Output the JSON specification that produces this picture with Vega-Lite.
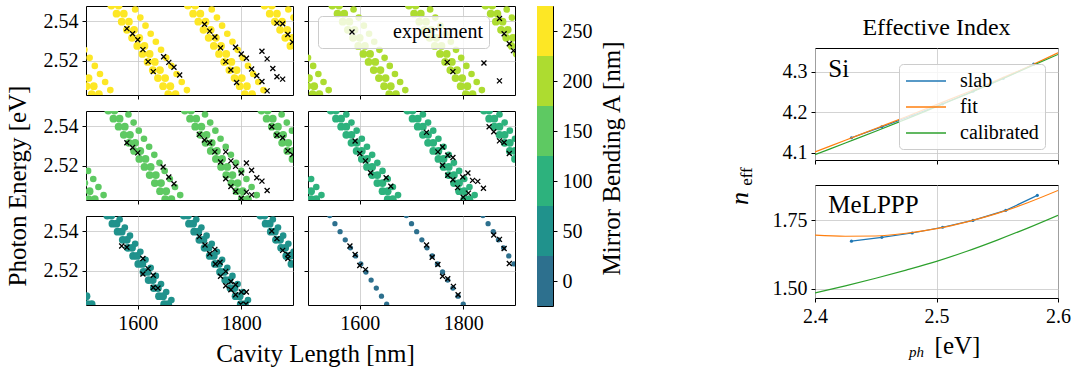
{
"$schema": "https://vega.github.io/schema/vega-lite/v6.json",
"padding": {"left": 5, "top": 5, "right": 5, "bottom": 5},
"background": "white",
"datasets": {
"sim": [
{"b":250,"m":"M","L":1501,"E":2.507},{"b":250,"m":"M","L":1511,"E":2.5029},
{"b":250,"m":"M","L":1549,"E":2.548},{"b":250,"m":"M","L":1559,"E":2.5439},{"b":250,"m":"M","L":1569,"E":2.5398},{"b":250,"m":"M","L":1579,"E":2.5357},{"b":250,"m":"M","L":1589,"E":2.5316},{"b":250,"m":"M","L":1599,"E":2.5275},{"b":250,"m":"M","L":1609,"E":2.5234},{"b":250,"m":"M","L":1619,"E":2.5193},{"b":250,"m":"M","L":1629,"E":2.5152},{"b":250,"m":"M","L":1639,"E":2.5111},{"b":250,"m":"M","L":1649,"E":2.507},{"b":250,"m":"M","L":1659,"E":2.5029},
{"b":250,"m":"M","L":1697,"E":2.548},{"b":250,"m":"M","L":1707,"E":2.5439},{"b":250,"m":"M","L":1717,"E":2.5398},{"b":250,"m":"M","L":1727,"E":2.5357},{"b":250,"m":"M","L":1737,"E":2.5316},{"b":250,"m":"M","L":1747,"E":2.5275},{"b":250,"m":"M","L":1757,"E":2.5234},{"b":250,"m":"M","L":1767,"E":2.5193},{"b":250,"m":"M","L":1777,"E":2.5152},{"b":250,"m":"M","L":1787,"E":2.5111},{"b":250,"m":"M","L":1797,"E":2.507},{"b":250,"m":"M","L":1807,"E":2.5029},
{"b":250,"m":"M","L":1845,"E":2.548},{"b":250,"m":"M","L":1855,"E":2.5439},{"b":250,"m":"M","L":1865,"E":2.5398},{"b":250,"m":"M","L":1875,"E":2.5357},{"b":250,"m":"M","L":1885,"E":2.5316},{"b":250,"m":"M","L":1895,"E":2.5275},
{"b":250,"m":"M","L":1505,"E":2.5111},{"b":250,"m":"M","L":1515,"E":2.507},{"b":250,"m":"M","L":1525,"E":2.5029},
{"b":250,"m":"M","L":1563,"E":2.548},{"b":250,"m":"M","L":1573,"E":2.5439},{"b":250,"m":"M","L":1583,"E":2.5398},{"b":250,"m":"M","L":1593,"E":2.5357},{"b":250,"m":"M","L":1603,"E":2.5316},{"b":250,"m":"M","L":1613,"E":2.5275},{"b":250,"m":"M","L":1623,"E":2.5234},{"b":250,"m":"M","L":1633,"E":2.5193},{"b":250,"m":"M","L":1643,"E":2.5152},{"b":250,"m":"M","L":1653,"E":2.5111},{"b":250,"m":"M","L":1663,"E":2.507},{"b":250,"m":"M","L":1673,"E":2.5029},
{"b":250,"m":"M","L":1711,"E":2.548},{"b":250,"m":"M","L":1721,"E":2.5439},{"b":250,"m":"M","L":1731,"E":2.5398},{"b":250,"m":"M","L":1741,"E":2.5357},{"b":250,"m":"M","L":1751,"E":2.5316},{"b":250,"m":"M","L":1761,"E":2.5275},{"b":250,"m":"M","L":1771,"E":2.5234},{"b":250,"m":"M","L":1781,"E":2.5193},{"b":250,"m":"M","L":1791,"E":2.5152},{"b":250,"m":"M","L":1801,"E":2.5111},{"b":250,"m":"M","L":1811,"E":2.507},{"b":250,"m":"M","L":1821,"E":2.5029},
{"b":250,"m":"M","L":1859,"E":2.548},{"b":250,"m":"M","L":1869,"E":2.5439},{"b":250,"m":"M","L":1879,"E":2.5398},{"b":250,"m":"M","L":1889,"E":2.5357},{"b":250,"m":"M","L":1899,"E":2.5316},
{"b":250,"m":"S","L":1497,"E":2.5255},{"b":250,"m":"S","L":1507,"E":2.5214},{"b":250,"m":"S","L":1517,"E":2.5173},{"b":250,"m":"S","L":1527,"E":2.5132},{"b":250,"m":"S","L":1537,"E":2.5091},{"b":250,"m":"S","L":1547,"E":2.505},
{"b":250,"m":"S","L":1595,"E":2.546},{"b":250,"m":"S","L":1605,"E":2.5419},{"b":250,"m":"S","L":1615,"E":2.5378},{"b":250,"m":"S","L":1625,"E":2.5337},{"b":250,"m":"S","L":1635,"E":2.5296},{"b":250,"m":"S","L":1645,"E":2.5255},{"b":250,"m":"S","L":1655,"E":2.5214},{"b":250,"m":"S","L":1665,"E":2.5173},{"b":250,"m":"S","L":1675,"E":2.5132},{"b":250,"m":"S","L":1685,"E":2.5091},{"b":250,"m":"S","L":1695,"E":2.505},
{"b":250,"m":"S","L":1743,"E":2.546},{"b":250,"m":"S","L":1753,"E":2.5419},{"b":250,"m":"S","L":1763,"E":2.5378},{"b":250,"m":"S","L":1773,"E":2.5337},{"b":250,"m":"S","L":1783,"E":2.5296},{"b":250,"m":"S","L":1793,"E":2.5255},{"b":250,"m":"S","L":1803,"E":2.5214},{"b":250,"m":"S","L":1813,"E":2.5173},{"b":250,"m":"S","L":1823,"E":2.5132},{"b":250,"m":"S","L":1833,"E":2.5091},{"b":250,"m":"S","L":1843,"E":2.505},
{"b":250,"m":"S","L":1891,"E":2.546},{"b":250,"m":"S","L":1901,"E":2.5419},

{"b":200,"m":"M","L":1499,"E":2.507},{"b":200,"m":"M","L":1509,"E":2.5029},
{"b":200,"m":"M","L":1547,"E":2.548},{"b":200,"m":"M","L":1557,"E":2.5439},{"b":200,"m":"M","L":1567,"E":2.5398},{"b":200,"m":"M","L":1577,"E":2.5357},{"b":200,"m":"M","L":1587,"E":2.5316},{"b":200,"m":"M","L":1597,"E":2.5275},{"b":200,"m":"M","L":1607,"E":2.5234},{"b":200,"m":"M","L":1617,"E":2.5193},{"b":200,"m":"M","L":1627,"E":2.5152},{"b":200,"m":"M","L":1637,"E":2.5111},{"b":200,"m":"M","L":1647,"E":2.507},{"b":200,"m":"M","L":1657,"E":2.5029},
{"b":200,"m":"M","L":1695,"E":2.548},{"b":200,"m":"M","L":1705,"E":2.5439},{"b":200,"m":"M","L":1715,"E":2.5398},{"b":200,"m":"M","L":1725,"E":2.5357},{"b":200,"m":"M","L":1735,"E":2.5316},{"b":200,"m":"M","L":1745,"E":2.5275},{"b":200,"m":"M","L":1755,"E":2.5234},{"b":200,"m":"M","L":1765,"E":2.5193},{"b":200,"m":"M","L":1775,"E":2.5152},{"b":200,"m":"M","L":1785,"E":2.5111},{"b":200,"m":"M","L":1795,"E":2.507},{"b":200,"m":"M","L":1805,"E":2.5029},
{"b":200,"m":"M","L":1843,"E":2.548},{"b":200,"m":"M","L":1853,"E":2.5439},{"b":200,"m":"M","L":1863,"E":2.5398},{"b":200,"m":"M","L":1873,"E":2.5357},{"b":200,"m":"M","L":1883,"E":2.5316},{"b":200,"m":"M","L":1893,"E":2.5275},{"b":200,"m":"M","L":1903,"E":2.5234},
{"b":200,"m":"M","L":1502,"E":2.5111},{"b":200,"m":"M","L":1512,"E":2.507},{"b":200,"m":"M","L":1522,"E":2.5029},
{"b":200,"m":"M","L":1560,"E":2.548},{"b":200,"m":"M","L":1570,"E":2.5439},{"b":200,"m":"M","L":1580,"E":2.5398},{"b":200,"m":"M","L":1590,"E":2.5357},{"b":200,"m":"M","L":1600,"E":2.5316},{"b":200,"m":"M","L":1610,"E":2.5275},{"b":200,"m":"M","L":1620,"E":2.5234},{"b":200,"m":"M","L":1630,"E":2.5193},{"b":200,"m":"M","L":1640,"E":2.5152},{"b":200,"m":"M","L":1650,"E":2.5111},{"b":200,"m":"M","L":1660,"E":2.507},{"b":200,"m":"M","L":1670,"E":2.5029},
{"b":200,"m":"M","L":1708,"E":2.548},{"b":200,"m":"M","L":1718,"E":2.5439},{"b":200,"m":"M","L":1728,"E":2.5398},{"b":200,"m":"M","L":1738,"E":2.5357},{"b":200,"m":"M","L":1748,"E":2.5316},{"b":200,"m":"M","L":1758,"E":2.5275},{"b":200,"m":"M","L":1768,"E":2.5234},{"b":200,"m":"M","L":1778,"E":2.5193},{"b":200,"m":"M","L":1788,"E":2.5152},{"b":200,"m":"M","L":1798,"E":2.5111},{"b":200,"m":"M","L":1808,"E":2.507},{"b":200,"m":"M","L":1818,"E":2.5029},
{"b":200,"m":"M","L":1856,"E":2.548},{"b":200,"m":"M","L":1866,"E":2.5439},{"b":200,"m":"M","L":1876,"E":2.5398},{"b":200,"m":"M","L":1886,"E":2.5357},{"b":200,"m":"M","L":1896,"E":2.5316},
{"b":200,"m":"S","L":1500,"E":2.5214},{"b":200,"m":"S","L":1510,"E":2.5173},{"b":200,"m":"S","L":1520,"E":2.5132},{"b":200,"m":"S","L":1530,"E":2.5091},{"b":200,"m":"S","L":1540,"E":2.505},
{"b":200,"m":"S","L":1588,"E":2.546},{"b":200,"m":"S","L":1598,"E":2.5419},{"b":200,"m":"S","L":1608,"E":2.5378},{"b":200,"m":"S","L":1618,"E":2.5337},{"b":200,"m":"S","L":1628,"E":2.5296},{"b":200,"m":"S","L":1638,"E":2.5255},{"b":200,"m":"S","L":1648,"E":2.5214},{"b":200,"m":"S","L":1658,"E":2.5173},{"b":200,"m":"S","L":1668,"E":2.5132},{"b":200,"m":"S","L":1678,"E":2.5091},{"b":200,"m":"S","L":1688,"E":2.505},
{"b":200,"m":"S","L":1736,"E":2.546},{"b":200,"m":"S","L":1746,"E":2.5419},{"b":200,"m":"S","L":1756,"E":2.5378},{"b":200,"m":"S","L":1766,"E":2.5337},{"b":200,"m":"S","L":1776,"E":2.5296},{"b":200,"m":"S","L":1786,"E":2.5255},{"b":200,"m":"S","L":1796,"E":2.5214},{"b":200,"m":"S","L":1806,"E":2.5173},{"b":200,"m":"S","L":1816,"E":2.5132},{"b":200,"m":"S","L":1826,"E":2.5091},{"b":200,"m":"S","L":1836,"E":2.505},
{"b":200,"m":"S","L":1884,"E":2.546},{"b":200,"m":"S","L":1894,"E":2.5419},

{"b":150,"m":"M","L":1505,"E":2.5029},
{"b":150,"m":"M","L":1543,"E":2.548},{"b":150,"m":"M","L":1553,"E":2.5439},{"b":150,"m":"M","L":1563,"E":2.5398},{"b":150,"m":"M","L":1573,"E":2.5357},{"b":150,"m":"M","L":1583,"E":2.5316},{"b":150,"m":"M","L":1593,"E":2.5275},{"b":150,"m":"M","L":1603,"E":2.5234},{"b":150,"m":"M","L":1613,"E":2.5193},{"b":150,"m":"M","L":1623,"E":2.5152},{"b":150,"m":"M","L":1633,"E":2.5111},{"b":150,"m":"M","L":1643,"E":2.507},{"b":150,"m":"M","L":1653,"E":2.5029},
{"b":150,"m":"M","L":1691,"E":2.548},{"b":150,"m":"M","L":1701,"E":2.5439},{"b":150,"m":"M","L":1711,"E":2.5398},{"b":150,"m":"M","L":1721,"E":2.5357},{"b":150,"m":"M","L":1731,"E":2.5316},{"b":150,"m":"M","L":1741,"E":2.5275},{"b":150,"m":"M","L":1751,"E":2.5234},{"b":150,"m":"M","L":1761,"E":2.5193},{"b":150,"m":"M","L":1771,"E":2.5152},{"b":150,"m":"M","L":1781,"E":2.5111},{"b":150,"m":"M","L":1791,"E":2.507},{"b":150,"m":"M","L":1801,"E":2.5029},
{"b":150,"m":"M","L":1839,"E":2.548},{"b":150,"m":"M","L":1849,"E":2.5439},{"b":150,"m":"M","L":1859,"E":2.5398},{"b":150,"m":"M","L":1869,"E":2.5357},{"b":150,"m":"M","L":1879,"E":2.5316},{"b":150,"m":"M","L":1889,"E":2.5275},{"b":150,"m":"M","L":1899,"E":2.5234},
{"b":150,"m":"M","L":1497,"E":2.5111},{"b":150,"m":"M","L":1507,"E":2.507},{"b":150,"m":"M","L":1517,"E":2.5029},
{"b":150,"m":"M","L":1555,"E":2.548},{"b":150,"m":"M","L":1565,"E":2.5439},{"b":150,"m":"M","L":1575,"E":2.5398},{"b":150,"m":"M","L":1585,"E":2.5357},{"b":150,"m":"M","L":1595,"E":2.5316},{"b":150,"m":"M","L":1605,"E":2.5275},{"b":150,"m":"M","L":1615,"E":2.5234},{"b":150,"m":"M","L":1625,"E":2.5193},{"b":150,"m":"M","L":1635,"E":2.5152},{"b":150,"m":"M","L":1645,"E":2.5111},{"b":150,"m":"M","L":1655,"E":2.507},{"b":150,"m":"M","L":1665,"E":2.5029},
{"b":150,"m":"M","L":1703,"E":2.548},{"b":150,"m":"M","L":1713,"E":2.5439},{"b":150,"m":"M","L":1723,"E":2.5398},{"b":150,"m":"M","L":1733,"E":2.5357},{"b":150,"m":"M","L":1743,"E":2.5316},{"b":150,"m":"M","L":1753,"E":2.5275},{"b":150,"m":"M","L":1763,"E":2.5234},{"b":150,"m":"M","L":1773,"E":2.5193},{"b":150,"m":"M","L":1783,"E":2.5152},{"b":150,"m":"M","L":1793,"E":2.5111},{"b":150,"m":"M","L":1803,"E":2.507},{"b":150,"m":"M","L":1813,"E":2.5029},
{"b":150,"m":"M","L":1851,"E":2.548},{"b":150,"m":"M","L":1861,"E":2.5439},{"b":150,"m":"M","L":1871,"E":2.5398},{"b":150,"m":"M","L":1881,"E":2.5357},{"b":150,"m":"M","L":1891,"E":2.5316},{"b":150,"m":"M","L":1901,"E":2.5275},
{"b":150,"m":"S","L":1504,"E":2.5173},{"b":150,"m":"S","L":1514,"E":2.5132},{"b":150,"m":"S","L":1524,"E":2.5091},{"b":150,"m":"S","L":1534,"E":2.505},
{"b":150,"m":"S","L":1582,"E":2.546},{"b":150,"m":"S","L":1592,"E":2.5419},{"b":150,"m":"S","L":1602,"E":2.5378},{"b":150,"m":"S","L":1612,"E":2.5337},{"b":150,"m":"S","L":1622,"E":2.5296},{"b":150,"m":"S","L":1632,"E":2.5255},{"b":150,"m":"S","L":1642,"E":2.5214},{"b":150,"m":"S","L":1652,"E":2.5173},{"b":150,"m":"S","L":1662,"E":2.5132},{"b":150,"m":"S","L":1672,"E":2.5091},{"b":150,"m":"S","L":1682,"E":2.505},
{"b":150,"m":"S","L":1730,"E":2.546},{"b":150,"m":"S","L":1740,"E":2.5419},{"b":150,"m":"S","L":1750,"E":2.5378},{"b":150,"m":"S","L":1760,"E":2.5337},{"b":150,"m":"S","L":1770,"E":2.5296},{"b":150,"m":"S","L":1780,"E":2.5255},{"b":150,"m":"S","L":1790,"E":2.5214},{"b":150,"m":"S","L":1800,"E":2.5173},{"b":150,"m":"S","L":1810,"E":2.5132},{"b":150,"m":"S","L":1820,"E":2.5091},{"b":150,"m":"S","L":1830,"E":2.505},
{"b":150,"m":"S","L":1878,"E":2.546},{"b":150,"m":"S","L":1888,"E":2.5419},{"b":150,"m":"S","L":1898,"E":2.5378},

{"b":100,"m":"M","L":1506,"E":2.5029},
{"b":100,"m":"M","L":1544,"E":2.548},{"b":100,"m":"M","L":1554,"E":2.5439},{"b":100,"m":"M","L":1564,"E":2.5398},{"b":100,"m":"M","L":1574,"E":2.5357},{"b":100,"m":"M","L":1584,"E":2.5316},{"b":100,"m":"M","L":1594,"E":2.5275},{"b":100,"m":"M","L":1604,"E":2.5234},{"b":100,"m":"M","L":1614,"E":2.5193},{"b":100,"m":"M","L":1624,"E":2.5152},{"b":100,"m":"M","L":1634,"E":2.5111},{"b":100,"m":"M","L":1644,"E":2.507},{"b":100,"m":"M","L":1654,"E":2.5029},
{"b":100,"m":"M","L":1692,"E":2.548},{"b":100,"m":"M","L":1702,"E":2.5439},{"b":100,"m":"M","L":1712,"E":2.5398},{"b":100,"m":"M","L":1722,"E":2.5357},{"b":100,"m":"M","L":1732,"E":2.5316},{"b":100,"m":"M","L":1742,"E":2.5275},{"b":100,"m":"M","L":1752,"E":2.5234},{"b":100,"m":"M","L":1762,"E":2.5193},{"b":100,"m":"M","L":1772,"E":2.5152},{"b":100,"m":"M","L":1782,"E":2.5111},{"b":100,"m":"M","L":1792,"E":2.507},{"b":100,"m":"M","L":1802,"E":2.5029},
{"b":100,"m":"M","L":1840,"E":2.548},{"b":100,"m":"M","L":1850,"E":2.5439},{"b":100,"m":"M","L":1860,"E":2.5398},{"b":100,"m":"M","L":1870,"E":2.5357},{"b":100,"m":"M","L":1880,"E":2.5316},{"b":100,"m":"M","L":1890,"E":2.5275},{"b":100,"m":"M","L":1900,"E":2.5234},
{"b":100,"m":"M","L":1506,"E":2.507},{"b":100,"m":"M","L":1516,"E":2.5029},
{"b":100,"m":"M","L":1554,"E":2.548},{"b":100,"m":"M","L":1564,"E":2.5439},{"b":100,"m":"M","L":1574,"E":2.5398},{"b":100,"m":"M","L":1584,"E":2.5357},{"b":100,"m":"M","L":1594,"E":2.5316},{"b":100,"m":"M","L":1604,"E":2.5275},{"b":100,"m":"M","L":1614,"E":2.5234},{"b":100,"m":"M","L":1624,"E":2.5193},{"b":100,"m":"M","L":1634,"E":2.5152},{"b":100,"m":"M","L":1644,"E":2.5111},{"b":100,"m":"M","L":1654,"E":2.507},{"b":100,"m":"M","L":1664,"E":2.5029},
{"b":100,"m":"M","L":1702,"E":2.548},{"b":100,"m":"M","L":1712,"E":2.5439},{"b":100,"m":"M","L":1722,"E":2.5398},{"b":100,"m":"M","L":1732,"E":2.5357},{"b":100,"m":"M","L":1742,"E":2.5316},{"b":100,"m":"M","L":1752,"E":2.5275},{"b":100,"m":"M","L":1762,"E":2.5234},{"b":100,"m":"M","L":1772,"E":2.5193},{"b":100,"m":"M","L":1782,"E":2.5152},{"b":100,"m":"M","L":1792,"E":2.5111},{"b":100,"m":"M","L":1802,"E":2.507},{"b":100,"m":"M","L":1812,"E":2.5029},
{"b":100,"m":"M","L":1850,"E":2.548},{"b":100,"m":"M","L":1860,"E":2.5439},{"b":100,"m":"M","L":1870,"E":2.5398},{"b":100,"m":"M","L":1880,"E":2.5357},{"b":100,"m":"M","L":1890,"E":2.5316},{"b":100,"m":"M","L":1900,"E":2.5275},
{"b":100,"m":"S","L":1506,"E":2.5132},{"b":100,"m":"S","L":1516,"E":2.5091},{"b":100,"m":"S","L":1526,"E":2.505},
{"b":100,"m":"S","L":1574,"E":2.546},{"b":100,"m":"S","L":1584,"E":2.5419},{"b":100,"m":"S","L":1594,"E":2.5378},{"b":100,"m":"S","L":1604,"E":2.5337},{"b":100,"m":"S","L":1614,"E":2.5296},{"b":100,"m":"S","L":1624,"E":2.5255},{"b":100,"m":"S","L":1634,"E":2.5214},{"b":100,"m":"S","L":1644,"E":2.5173},{"b":100,"m":"S","L":1654,"E":2.5132},{"b":100,"m":"S","L":1664,"E":2.5091},{"b":100,"m":"S","L":1674,"E":2.505},
{"b":100,"m":"S","L":1722,"E":2.546},{"b":100,"m":"S","L":1732,"E":2.5419},{"b":100,"m":"S","L":1742,"E":2.5378},{"b":100,"m":"S","L":1752,"E":2.5337},{"b":100,"m":"S","L":1762,"E":2.5296},{"b":100,"m":"S","L":1772,"E":2.5255},{"b":100,"m":"S","L":1782,"E":2.5214},{"b":100,"m":"S","L":1792,"E":2.5173},{"b":100,"m":"S","L":1802,"E":2.5132},{"b":100,"m":"S","L":1812,"E":2.5091},{"b":100,"m":"S","L":1822,"E":2.505},
{"b":100,"m":"S","L":1870,"E":2.546},{"b":100,"m":"S","L":1880,"E":2.5419},{"b":100,"m":"S","L":1890,"E":2.5378},{"b":100,"m":"S","L":1900,"E":2.5337},

{"b":50,"m":"M","L":1503,"E":2.5029},
{"b":50,"m":"M","L":1541,"E":2.548},{"b":50,"m":"M","L":1551,"E":2.5439},{"b":50,"m":"M","L":1561,"E":2.5398},{"b":50,"m":"M","L":1571,"E":2.5357},{"b":50,"m":"M","L":1581,"E":2.5316},{"b":50,"m":"M","L":1591,"E":2.5275},{"b":50,"m":"M","L":1601,"E":2.5234},{"b":50,"m":"M","L":1611,"E":2.5193},{"b":50,"m":"M","L":1621,"E":2.5152},{"b":50,"m":"M","L":1631,"E":2.5111},{"b":50,"m":"M","L":1641,"E":2.507},{"b":50,"m":"M","L":1651,"E":2.5029},
{"b":50,"m":"M","L":1689,"E":2.548},{"b":50,"m":"M","L":1699,"E":2.5439},{"b":50,"m":"M","L":1709,"E":2.5398},{"b":50,"m":"M","L":1719,"E":2.5357},{"b":50,"m":"M","L":1729,"E":2.5316},{"b":50,"m":"M","L":1739,"E":2.5275},{"b":50,"m":"M","L":1749,"E":2.5234},{"b":50,"m":"M","L":1759,"E":2.5193},{"b":50,"m":"M","L":1769,"E":2.5152},{"b":50,"m":"M","L":1779,"E":2.5111},{"b":50,"m":"M","L":1789,"E":2.507},{"b":50,"m":"M","L":1799,"E":2.5029},
{"b":50,"m":"M","L":1837,"E":2.548},{"b":50,"m":"M","L":1847,"E":2.5439},{"b":50,"m":"M","L":1857,"E":2.5398},{"b":50,"m":"M","L":1867,"E":2.5357},{"b":50,"m":"M","L":1877,"E":2.5316},{"b":50,"m":"M","L":1887,"E":2.5275},{"b":50,"m":"M","L":1897,"E":2.5234},
{"b":50,"m":"M","L":1501,"E":2.507},{"b":50,"m":"M","L":1511,"E":2.5029},
{"b":50,"m":"M","L":1549,"E":2.548},{"b":50,"m":"M","L":1559,"E":2.5439},{"b":50,"m":"M","L":1569,"E":2.5398},{"b":50,"m":"M","L":1579,"E":2.5357},{"b":50,"m":"M","L":1589,"E":2.5316},{"b":50,"m":"M","L":1599,"E":2.5275},{"b":50,"m":"M","L":1609,"E":2.5234},{"b":50,"m":"M","L":1619,"E":2.5193},{"b":50,"m":"M","L":1629,"E":2.5152},{"b":50,"m":"M","L":1639,"E":2.5111},{"b":50,"m":"M","L":1649,"E":2.507},{"b":50,"m":"M","L":1659,"E":2.5029},
{"b":50,"m":"M","L":1697,"E":2.548},{"b":50,"m":"M","L":1707,"E":2.5439},{"b":50,"m":"M","L":1717,"E":2.5398},{"b":50,"m":"M","L":1727,"E":2.5357},{"b":50,"m":"M","L":1737,"E":2.5316},{"b":50,"m":"M","L":1747,"E":2.5275},{"b":50,"m":"M","L":1757,"E":2.5234},{"b":50,"m":"M","L":1767,"E":2.5193},{"b":50,"m":"M","L":1777,"E":2.5152},{"b":50,"m":"M","L":1787,"E":2.5111},{"b":50,"m":"M","L":1797,"E":2.507},{"b":50,"m":"M","L":1807,"E":2.5029},
{"b":50,"m":"M","L":1845,"E":2.548},{"b":50,"m":"M","L":1855,"E":2.5439},{"b":50,"m":"M","L":1865,"E":2.5398},{"b":50,"m":"M","L":1875,"E":2.5357},{"b":50,"m":"M","L":1885,"E":2.5316},{"b":50,"m":"M","L":1895,"E":2.5275},
{"b":50,"m":"S","L":1565,"E":2.546},{"b":50,"m":"S","L":1575,"E":2.5419},{"b":50,"m":"S","L":1585,"E":2.5378},{"b":50,"m":"S","L":1595,"E":2.5337},{"b":50,"m":"S","L":1605,"E":2.5296},{"b":50,"m":"S","L":1615,"E":2.5255},{"b":50,"m":"S","L":1625,"E":2.5214},{"b":50,"m":"S","L":1635,"E":2.5173},{"b":50,"m":"S","L":1645,"E":2.5132},{"b":50,"m":"S","L":1655,"E":2.5091},{"b":50,"m":"S","L":1665,"E":2.505},
{"b":50,"m":"S","L":1713,"E":2.546},{"b":50,"m":"S","L":1723,"E":2.5419},{"b":50,"m":"S","L":1733,"E":2.5378},{"b":50,"m":"S","L":1743,"E":2.5337},{"b":50,"m":"S","L":1753,"E":2.5296},{"b":50,"m":"S","L":1763,"E":2.5255},{"b":50,"m":"S","L":1773,"E":2.5214},{"b":50,"m":"S","L":1783,"E":2.5173},{"b":50,"m":"S","L":1793,"E":2.5132},{"b":50,"m":"S","L":1803,"E":2.5091},{"b":50,"m":"S","L":1813,"E":2.505},
{"b":50,"m":"S","L":1861,"E":2.546},{"b":50,"m":"S","L":1871,"E":2.5419},{"b":50,"m":"S","L":1881,"E":2.5378},{"b":50,"m":"S","L":1891,"E":2.5337},{"b":50,"m":"S","L":1901,"E":2.5296},

{"b":0,"m":"O","L":1542,"E":2.548},{"b":0,"m":"O","L":1552,"E":2.5439},{"b":0,"m":"O","L":1562,"E":2.5398},{"b":0,"m":"O","L":1572,"E":2.5357},{"b":0,"m":"O","L":1582,"E":2.5316},{"b":0,"m":"O","L":1592,"E":2.5275},{"b":0,"m":"O","L":1602,"E":2.5234},{"b":0,"m":"O","L":1612,"E":2.5193},{"b":0,"m":"O","L":1622,"E":2.5152},{"b":0,"m":"O","L":1632,"E":2.5111},{"b":0,"m":"O","L":1642,"E":2.507},{"b":0,"m":"O","L":1652,"E":2.5029},
{"b":0,"m":"O","L":1690,"E":2.548},{"b":0,"m":"O","L":1700,"E":2.5439},{"b":0,"m":"O","L":1710,"E":2.5398},{"b":0,"m":"O","L":1720,"E":2.5357},{"b":0,"m":"O","L":1730,"E":2.5316},{"b":0,"m":"O","L":1740,"E":2.5275},{"b":0,"m":"O","L":1750,"E":2.5234},{"b":0,"m":"O","L":1760,"E":2.5193},{"b":0,"m":"O","L":1770,"E":2.5152},{"b":0,"m":"O","L":1780,"E":2.5111},{"b":0,"m":"O","L":1790,"E":2.507},{"b":0,"m":"O","L":1800,"E":2.5029},
{"b":0,"m":"O","L":1838,"E":2.548},{"b":0,"m":"O","L":1848,"E":2.5439},{"b":0,"m":"O","L":1858,"E":2.5398},{"b":0,"m":"O","L":1868,"E":2.5357},{"b":0,"m":"O","L":1878,"E":2.5316},{"b":0,"m":"O","L":1888,"E":2.5275},{"b":0,"m":"O","L":1898,"E":2.5234}
],
"exp": [
{"b":250,"L":1579,"E":2.5363},{"b":250,"L":1590,"E":2.5337},{"b":250,"L":1600,"E":2.5306},{"b":250,"L":1610,"E":2.5256},{"b":250,"L":1620,"E":2.5195},{"b":250,"L":1630,"E":2.5144},{"b":250,"L":1650,"E":2.522},{"b":250,"L":1660,"E":2.5191},{"b":250,"L":1670,"E":2.5166},{"b":250,"L":1681,"E":2.5127},{"b":250,"L":1729,"E":2.5385},{"b":250,"L":1739,"E":2.535},{"b":250,"L":1749,"E":2.532},{"b":250,"L":1760,"E":2.5265},{"b":250,"L":1770,"E":2.5195},{"b":250,"L":1780,"E":2.5152},{"b":250,"L":1791,"E":2.5089},{"b":250,"L":1789,"E":2.5268},{"b":250,"L":1800,"E":2.5234},{"b":250,"L":1810,"E":2.5212},{"b":250,"L":1820,"E":2.5157},{"b":250,"L":1830,"E":2.5123},{"b":250,"L":1840,"E":2.5094},{"b":250,"L":1850,"E":2.5046},{"b":250,"L":1840,"E":2.5248},{"b":250,"L":1850,"E":2.5209},{"b":250,"L":1861,"E":2.516},{"b":250,"L":1869,"E":2.5118},{"b":250,"L":1880,"E":2.5106},{"b":250,"L":1869,"E":2.5391},{"b":250,"L":1880,"E":2.5388},{"b":250,"L":1890,"E":2.5333},{"b":250,"L":1899,"E":2.5294},
{"b":200,"L":1870,"E":2.5414},{"b":200,"L":1879,"E":2.5337},{"b":200,"L":1889,"E":2.5286},{"b":200,"L":1897,"E":2.5251},{"b":200,"L":1769,"E":2.5191},{"b":200,"L":1780,"E":2.5144},{"b":200,"L":1840,"E":2.5188},{"b":200,"L":1870,"E":2.5097},
{"b":150,"L":1579,"E":2.5316},{"b":150,"L":1590,"E":2.5292},{"b":150,"L":1600,"E":2.5265},{"b":150,"L":1649,"E":2.5193},{"b":150,"L":1660,"E":2.5142},{"b":150,"L":1670,"E":2.5108},{"b":150,"L":1719,"E":2.5359},{"b":150,"L":1729,"E":2.533},{"b":150,"L":1739,"E":2.5316},{"b":150,"L":1749,"E":2.527},{"b":150,"L":1760,"E":2.5218},{"b":150,"L":1770,"E":2.527},{"b":150,"L":1780,"E":2.5224},{"b":150,"L":1789,"E":2.5196},{"b":150,"L":1800,"E":2.5162},{"b":150,"L":1810,"E":2.5213},{"b":150,"L":1820,"E":2.5176},{"b":150,"L":1830,"E":2.5138},{"b":150,"L":1840,"E":2.5121},{"b":150,"L":1850,"E":2.5073},{"b":150,"L":1770,"E":2.5133},{"b":150,"L":1780,"E":2.5094},{"b":150,"L":1789,"E":2.5068},{"b":150,"L":1800,"E":2.5034},{"b":150,"L":1810,"E":2.5065},{"b":150,"L":1820,"E":2.5051},{"b":150,"L":1859,"E":2.5398},{"b":150,"L":1869,"E":2.5355},{"b":150,"L":1880,"E":2.5342},{"b":150,"L":1890,"E":2.5275},{"b":150,"L":1899,"E":2.5256},
{"b":100,"L":1591,"E":2.5325},{"b":100,"L":1600,"E":2.5262},{"b":100,"L":1611,"E":2.5224},{"b":100,"L":1621,"E":2.5164},{"b":100,"L":1651,"E":2.5138},{"b":100,"L":1660,"E":2.5095},{"b":100,"L":1729,"E":2.5369},{"b":100,"L":1751,"E":2.527},{"b":100,"L":1760,"E":2.5295},{"b":100,"L":1770,"E":2.5253},{"b":100,"L":1780,"E":2.5241},{"b":100,"L":1760,"E":2.5202},{"b":100,"L":1770,"E":2.5151},{"b":100,"L":1780,"E":2.5128},{"b":100,"L":1789,"E":2.5088},{"b":100,"L":1799,"E":2.5142},{"b":100,"L":1809,"E":2.5162},{"b":100,"L":1810,"E":2.506},{"b":100,"L":1818,"E":2.5125},{"b":100,"L":1828,"E":2.512},{"b":100,"L":1839,"E":2.5085},{"b":100,"L":1800,"E":2.5039},{"b":100,"L":1850,"E":2.5398},{"b":100,"L":1859,"E":2.5372},{"b":100,"L":1870,"E":2.5326},{"b":100,"L":1879,"E":2.5318},{"b":100,"L":1889,"E":2.5262},
{"b":50,"L":1569,"E":2.5325},{"b":50,"L":1579,"E":2.5319},{"b":50,"L":1610,"E":2.5262},{"b":50,"L":1620,"E":2.521},{"b":50,"L":1610,"E":2.5183},{"b":50,"L":1630,"E":2.5176},{"b":50,"L":1630,"E":2.5114},{"b":50,"L":1639,"E":2.5111},{"b":50,"L":1719,"E":2.5373},{"b":50,"L":1730,"E":2.533},{"b":50,"L":1739,"E":2.5286},{"b":50,"L":1749,"E":2.5308},{"b":50,"L":1750,"E":2.5234},{"b":50,"L":1759,"E":2.5243},{"b":50,"L":1760,"E":2.5171},{"b":50,"L":1770,"E":2.5196},{"b":50,"L":1770,"E":2.5123},{"b":50,"L":1780,"E":2.5145},{"b":50,"L":1780,"E":2.5103},{"b":50,"L":1789,"E":2.5128},{"b":50,"L":1789,"E":2.5077},{"b":50,"L":1799,"E":2.5029},{"b":50,"L":1800,"E":2.5091},{"b":50,"L":1809,"E":2.5029},{"b":50,"L":1810,"E":2.5091},{"b":50,"L":1859,"E":2.5402},{"b":50,"L":1869,"E":2.5363},{"b":50,"L":1880,"E":2.5303},{"b":50,"L":1890,"E":2.5282},{"b":50,"L":1890,"E":2.5262},
{"b":0,"L":1581,"E":2.5325},{"b":0,"L":1591,"E":2.5282},{"b":0,"L":1600,"E":2.5226},{"b":0,"L":1611,"E":2.5205},{"b":0,"L":1729,"E":2.533},{"b":0,"L":1740,"E":2.5268},{"b":0,"L":1751,"E":2.5231},{"b":0,"L":1760,"E":2.5171},{"b":0,"L":1770,"E":2.5159},{"b":0,"L":1781,"E":2.512},{"b":0,"L":1790,"E":2.5077},{"b":0,"L":1859,"E":2.5381},{"b":0,"L":1870,"E":2.5359},{"b":0,"L":1879,"E":2.5313},{"b":0,"L":1889,"E":2.5236}
],
"bar": [
{"b":0,"lo":-25,"hi":25},{"b":50,"lo":25,"hi":75},{"b":100,"lo":75,"hi":125},{"b":150,"lo":125,"hi":175},{"b":200,"lo":175,"hi":225},{"b":250,"lo":225,"hi":275}
],
"idx": [
{"mat":"Si","series":"slab","ph":2.43,"n":4.137},{"mat":"Si","series":"slab","ph":2.455,"n":4.164},{"mat":"Si","series":"slab","ph":2.48,"n":4.192},{"mat":"Si","series":"slab","ph":2.505,"n":4.221},{"mat":"Si","series":"slab","ph":2.53,"n":4.252},{"mat":"Si","series":"slab","ph":2.555,"n":4.284},{"mat":"Si","series":"slab","ph":2.58,"n":4.319},
{"mat":"Si","series":"fit","ph":2.4,"n":4.102},{"mat":"Si","series":"fit","ph":2.425,"n":4.131},{"mat":"Si","series":"fit","ph":2.45,"n":4.16},{"mat":"Si","series":"fit","ph":2.475,"n":4.189},{"mat":"Si","series":"fit","ph":2.5,"n":4.219},{"mat":"Si","series":"fit","ph":2.525,"n":4.249},{"mat":"Si","series":"fit","ph":2.55,"n":4.28},{"mat":"Si","series":"fit","ph":2.575,"n":4.312},{"mat":"Si","series":"fit","ph":2.6,"n":4.347},
{"mat":"Si","series":"calibrated","ph":2.4,"n":4.095},{"mat":"Si","series":"calibrated","ph":2.425,"n":4.124},{"mat":"Si","series":"calibrated","ph":2.45,"n":4.153},{"mat":"Si","series":"calibrated","ph":2.475,"n":4.183},{"mat":"Si","series":"calibrated","ph":2.5,"n":4.214},{"mat":"Si","series":"calibrated","ph":2.525,"n":4.245},{"mat":"Si","series":"calibrated","ph":2.55,"n":4.277},{"mat":"Si","series":"calibrated","ph":2.575,"n":4.31},{"mat":"Si","series":"calibrated","ph":2.6,"n":4.343},
{"mat":"MeLPPP","series":"slab","ph":2.43,"n":1.674},{"mat":"MeLPPP","series":"slab","ph":2.455,"n":1.688},{"mat":"MeLPPP","series":"slab","ph":2.48,"n":1.704},{"mat":"MeLPPP","series":"slab","ph":2.505,"n":1.725},{"mat":"MeLPPP","series":"slab","ph":2.53,"n":1.75},{"mat":"MeLPPP","series":"slab","ph":2.557,"n":1.787},{"mat":"MeLPPP","series":"slab","ph":2.583,"n":1.842},
{"mat":"MeLPPP","series":"fit","ph":2.4,"n":1.696},{"mat":"MeLPPP","series":"fit","ph":2.425,"n":1.692},{"mat":"MeLPPP","series":"fit","ph":2.45,"n":1.693},{"mat":"MeLPPP","series":"fit","ph":2.475,"n":1.703},{"mat":"MeLPPP","series":"fit","ph":2.5,"n":1.72},{"mat":"MeLPPP","series":"fit","ph":2.525,"n":1.745},{"mat":"MeLPPP","series":"fit","ph":2.55,"n":1.776},{"mat":"MeLPPP","series":"fit","ph":2.575,"n":1.815},{"mat":"MeLPPP","series":"fit","ph":2.6,"n":1.86},
{"mat":"MeLPPP","series":"calibrated","ph":2.4,"n":1.484},{"mat":"MeLPPP","series":"calibrated","ph":2.425,"n":1.51},{"mat":"MeLPPP","series":"calibrated","ph":2.45,"n":1.538},{"mat":"MeLPPP","series":"calibrated","ph":2.475,"n":1.568},{"mat":"MeLPPP","series":"calibrated","ph":2.5,"n":1.6},{"mat":"MeLPPP","series":"calibrated","ph":2.525,"n":1.637},{"mat":"MeLPPP","series":"calibrated","ph":2.55,"n":1.678},{"mat":"MeLPPP","series":"calibrated","ph":2.575,"n":1.722},{"mat":"MeLPPP","series":"calibrated","ph":2.6,"n":1.769}
]
},
"hconcat": [
{
"hconcat": [
{
"title": {"text": "Photon Energy [eV]", "orient": "left", "anchor": "middle", "fontSize": 25, "offset": 12},
"vconcat": [
{
"hconcat": [
{"width": 207, "height": 89, "layer": [
{"data": {"name": "sim"}, "transform": [{"filter": "datum.b == 250"}], "mark": {"type": "circle", "opacity": 1, "clip": true},
 "encoding": {
  "x": {"field": "L", "type": "quantitative", "scale": {"domain": [1500, 1900], "nice": false, "zero": false}, "axis": {"values": [1600, 1800], "labels": false, "title": null}},
  "y": {"field": "E", "type": "quantitative", "scale": {"domain": [2.5025, 2.5478], "nice": false, "zero": false}, "axis": {"values": [2.52, 2.54], "format": ".2f", "labelFont": "Liberation Serif", "title": null}},
  "color": {"field": "b", "type": "ordinal", "scale": {"domain": [0, 50, 100, 150, 200, 250], "range": ["#2d708e", "#20928c", "#2db27d", "#5ec962", "#addc30", "#fde725"]}, "legend": null},
  "size": {"field": "m", "type": "ordinal", "scale": {"domain": ["M", "S", "O"], "range": [60, 28, 45]}, "legend": null}}},
{"data": {"name": "exp"}, "transform": [{"filter": "datum.b == 250"}], "mark": {"type": "point", "shape": "M-1,-1L1,1M-1,1L1,-1", "filled": false, "stroke": "black", "strokeWidth": 1.3, "size": 25, "opacity": 1, "clip": true},
 "encoding": {"x": {"field": "L", "type": "quantitative"}, "y": {"field": "E", "type": "quantitative"}}}
]},
{"width": 207, "height": 89, "layer": [
{"data": {"name": "sim"}, "transform": [{"filter": "datum.b == 200"}], "mark": {"type": "circle", "opacity": 1, "clip": true},
 "encoding": {
  "x": {"field": "L", "type": "quantitative", "scale": {"domain": [1500, 1900], "nice": false, "zero": false}, "axis": {"values": [1600, 1800], "labels": false, "title": null}},
  "y": {"field": "E", "type": "quantitative", "scale": {"domain": [2.5025, 2.5478], "nice": false, "zero": false}, "axis": {"values": [2.52, 2.54], "labels": false, "title": null}},
  "color": {"field": "b", "type": "ordinal", "scale": {"domain": [0, 50, 100, 150, 200, 250], "range": ["#2d708e", "#20928c", "#2db27d", "#5ec962", "#addc30", "#fde725"]}, "legend": null},
  "size": {"field": "m", "type": "ordinal", "scale": {"domain": ["M", "S", "O"], "range": [60, 28, 45]}, "legend": null}}},
{"data": {"name": "exp"}, "transform": [{"filter": "datum.b == 200"}], "mark": {"type": "point", "filled": false, "stroke": "black", "strokeWidth": 1.3, "size": 25, "opacity": 1, "clip": true},
 "encoding": {"x": {"field": "L", "type": "quantitative"}, "y": {"field": "E", "type": "quantitative"},
  "shape": {"datum": "experiment", "type": "nominal", "scale": {"domain": ["experiment"], "range": ["M-1,-1L1,1M-1,1L1,-1"]},
   "legend": {"orient": "none", "legendX": 10, "legendY": 10, "title": null, "padding": 6, "symbolOffset": 18, "labelOffset": 31, "symbolSize": 25, "symbolStrokeColor": "black", "symbolFillColor": "transparent", "symbolStrokeWidth": 1.3, "fillColor": "rgba(255,255,255,0.8)", "strokeColor": "#cccccc", "cornerRadius": 4, "labelFontSize": 20, "labelFont": "Liberation Serif"}}}}
]}
],
"spacing": 15, "bounds": "flush", "align": "each",
"resolve": {"scale": {"color": "independent", "shape": "independent", "size": "independent"}, "legend": {"color": "independent", "shape": "independent", "size": "independent"}}
},
{
"hconcat": [
{"width": 207, "height": 89, "layer": [
{"data": {"name": "sim"}, "transform": [{"filter": "datum.b == 150"}], "mark": {"type": "circle", "opacity": 1, "clip": true},
 "encoding": {
  "x": {"field": "L", "type": "quantitative", "scale": {"domain": [1500, 1900], "nice": false, "zero": false}, "axis": {"values": [1600, 1800], "labels": false, "title": null}},
  "y": {"field": "E", "type": "quantitative", "scale": {"domain": [2.5025, 2.5478], "nice": false, "zero": false}, "axis": {"values": [2.52, 2.54], "format": ".2f", "labelFont": "Liberation Serif", "title": null}},
  "color": {"field": "b", "type": "ordinal", "scale": {"domain": [0, 50, 100, 150, 200, 250], "range": ["#2d708e", "#20928c", "#2db27d", "#5ec962", "#addc30", "#fde725"]}, "legend": null},
  "size": {"field": "m", "type": "ordinal", "scale": {"domain": ["M", "S", "O"], "range": [60, 28, 45]}, "legend": null}}},
{"data": {"name": "exp"}, "transform": [{"filter": "datum.b == 150"}], "mark": {"type": "point", "shape": "M-1,-1L1,1M-1,1L1,-1", "filled": false, "stroke": "black", "strokeWidth": 1.3, "size": 25, "opacity": 1, "clip": true},
 "encoding": {"x": {"field": "L", "type": "quantitative"}, "y": {"field": "E", "type": "quantitative"}}}
]},
{"width": 207, "height": 89, "layer": [
{"data": {"name": "sim"}, "transform": [{"filter": "datum.b == 100"}], "mark": {"type": "circle", "opacity": 1, "clip": true},
 "encoding": {
  "x": {"field": "L", "type": "quantitative", "scale": {"domain": [1500, 1900], "nice": false, "zero": false}, "axis": {"values": [1600, 1800], "labels": false, "title": null}},
  "y": {"field": "E", "type": "quantitative", "scale": {"domain": [2.5025, 2.5478], "nice": false, "zero": false}, "axis": {"values": [2.52, 2.54], "labels": false, "title": null}},
  "color": {"field": "b", "type": "ordinal", "scale": {"domain": [0, 50, 100, 150, 200, 250], "range": ["#2d708e", "#20928c", "#2db27d", "#5ec962", "#addc30", "#fde725"]}, "legend": null},
  "size": {"field": "m", "type": "ordinal", "scale": {"domain": ["M", "S", "O"], "range": [60, 28, 45]}, "legend": null}}},
{"data": {"name": "exp"}, "transform": [{"filter": "datum.b == 100"}], "mark": {"type": "point", "shape": "M-1,-1L1,1M-1,1L1,-1", "filled": false, "stroke": "black", "strokeWidth": 1.3, "size": 25, "opacity": 1, "clip": true},
 "encoding": {"x": {"field": "L", "type": "quantitative"}, "y": {"field": "E", "type": "quantitative"}}}
]}
],
"spacing": 15, "bounds": "flush", "align": "each",
"resolve": {"scale": {"color": "independent", "shape": "independent", "size": "independent"}, "legend": {"color": "independent", "shape": "independent", "size": "independent"}}
},
{
"hconcat": [
{"width": 207, "height": 89, "layer": [
{"data": {"name": "sim"}, "transform": [{"filter": "datum.b == 50"}], "mark": {"type": "circle", "opacity": 1, "clip": true},
 "encoding": {
  "x": {"field": "L", "type": "quantitative", "scale": {"domain": [1500, 1900], "nice": false, "zero": false}, "axis": {"values": [1600, 1800], "format": "d", "labelFont": "Liberation Serif", "title": "Cavity Length [nm]", "titleX": 229, "titleY": 56, "titleAlign": "center", "titleBaseline": "alphabetic"}},
  "y": {"field": "E", "type": "quantitative", "scale": {"domain": [2.5025, 2.5478], "nice": false, "zero": false}, "axis": {"values": [2.52, 2.54], "format": ".2f", "labelFont": "Liberation Serif", "title": null}},
  "color": {"field": "b", "type": "ordinal", "scale": {"domain": [0, 50, 100, 150, 200, 250], "range": ["#2d708e", "#20928c", "#2db27d", "#5ec962", "#addc30", "#fde725"]}, "legend": null},
  "size": {"field": "m", "type": "ordinal", "scale": {"domain": ["M", "S", "O"], "range": [60, 28, 45]}, "legend": null}}},
{"data": {"name": "exp"}, "transform": [{"filter": "datum.b == 50"}], "mark": {"type": "point", "shape": "M-1,-1L1,1M-1,1L1,-1", "filled": false, "stroke": "black", "strokeWidth": 1.3, "size": 25, "opacity": 1, "clip": true},
 "encoding": {"x": {"field": "L", "type": "quantitative"}, "y": {"field": "E", "type": "quantitative"}}}
]},
{"width": 207, "height": 89, "layer": [
{"data": {"name": "sim"}, "transform": [{"filter": "datum.b == 0"}], "mark": {"type": "circle", "opacity": 1, "clip": true},
 "encoding": {
  "x": {"field": "L", "type": "quantitative", "scale": {"domain": [1500, 1900], "nice": false, "zero": false}, "axis": {"values": [1600, 1800], "format": "d", "labelFont": "Liberation Serif", "title": null}},
  "y": {"field": "E", "type": "quantitative", "scale": {"domain": [2.5025, 2.5478], "nice": false, "zero": false}, "axis": {"values": [2.52, 2.54], "labels": false, "title": null}},
  "color": {"field": "b", "type": "ordinal", "scale": {"domain": [0, 50, 100, 150, 200, 250], "range": ["#2d708e", "#20928c", "#2db27d", "#5ec962", "#addc30", "#fde725"]}, "legend": null},
  "size": {"field": "m", "type": "ordinal", "scale": {"domain": ["M", "S", "O"], "range": [60, 28, 45]}, "legend": null}}},
{"data": {"name": "exp"}, "transform": [{"filter": "datum.b == 0"}], "mark": {"type": "point", "shape": "M-1,-1L1,1M-1,1L1,-1", "filled": false, "stroke": "black", "strokeWidth": 1.3, "size": 25, "opacity": 1, "clip": true},
 "encoding": {"x": {"field": "L", "type": "quantitative"}, "y": {"field": "E", "type": "quantitative"}}}
]}
],
"spacing": 15, "bounds": "flush", "align": "each",
"resolve": {"scale": {"color": "independent", "shape": "independent", "size": "independent"}, "legend": {"color": "independent", "shape": "independent", "size": "independent"}}
}
],
"spacing": 10, "align": "each",
"resolve": {"scale": {"color": "independent", "shape": "independent", "size": "independent"}, "legend": {"color": "independent", "shape": "independent", "size": "independent"}}
},
{
"width": 16, "height": 300,
"data": {"name": "bar"},
"mark": {"type": "rect"},
"encoding": {
 "y": {"field": "lo", "type": "quantitative", "scale": {"domain": [-25, 275], "nice": false, "zero": false}, "axis": {"orient": "right", "values": [0, 50, 100, 150, 200, 250], "grid": false, "labelPadding": 5, "labelFont": "Liberation Serif", "title": "Mirror Bending A [nm]", "titleAngle": -90, "titleX": 58, "titleY": 152, "titleAlign": "center", "titleBaseline": "middle"}},
 "y2": {"field": "hi"},
 "color": {"field": "b", "type": "ordinal", "scale": {"domain": [0, 50, 100, 150, 200, 250], "range": ["#2d708e", "#20928c", "#2db27d", "#5ec962", "#addc30", "#fde725"]}, "legend": null}
}
}
],
"spacing": 20, "align": "each",
"resolve": {"scale": {"color": "independent", "shape": "independent", "size": "independent"}, "legend": {"color": "independent", "shape": "independent", "size": "independent"}}
},
{
"vconcat": [
{"width": 243, "height": 17, "data": {"values": [{}]}, "mark": {"type": "text"}, "encoding": {"text": {"value": ""}}, "view": {"stroke": null}},
{"width": 243, "height": 112,
 "title": {"text": "Effective Index", "offset": 8, "fontSize": 24},
 "layer": [
 {"data": {"name": "idx"}, "transform": [{"filter": "datum.mat == 'Si' && datum.series == 'slab'"}], "mark": {"type": "line", "strokeWidth": 1.2, "clip": true, "point": {"filled": true, "size": 10}},
  "encoding": {
   "x": {"field": "ph", "type": "quantitative", "scale": {"domain": [2.4, 2.6], "nice": false, "zero": false}, "axis": {"values": [2.4, 2.5, 2.6], "labels": false, "title": "ph", "titleFontStyle": "italic", "titleFontSize": 15, "titleX": 101, "titleY": 191, "titleAlign": "center", "titleBaseline": "middle"}},
   "y": {"field": "n", "type": "quantitative", "scale": {"domain": [4.082, 4.359], "nice": false, "zero": false}, "axis": {"values": [4.1, 4.2, 4.3], "format": ".1f", "labelFont": "Liberation Serif", "title": "n", "titleFontStyle": "italic", "titleFontSize": 26, "titleX": -76, "titleY": 150, "titleAngle": -90, "titleAlign": "center", "titleBaseline": "middle"}},
   "color": {"field": "series", "type": "nominal", "scale": {"domain": ["slab", "fit", "calibrated"], "range": ["#1f77b4", "#ff7f0e", "#2ca02c"]},
    "legend": {"orient": "none", "legendX": 84, "legendY": 16, "title": null, "symbolType": "M-2,0L2,0", "symbolSize": 400, "symbolStrokeWidth": 1.3, "symbolOffset": 10, "labelOffset": 23, "padding": 6, "rowPadding": 5, "labelFontSize": 20, "labelFont": "Liberation Serif", "fillColor": "rgba(255,255,255,0.8)", "strokeColor": "#cccccc", "cornerRadius": 4}}}},
 {"data": {"name": "idx"}, "transform": [{"filter": "datum.mat == 'Si' && datum.series != 'slab'"}], "mark": {"type": "line", "strokeWidth": 1.2, "interpolate": "monotone", "clip": true},
  "encoding": {"x": {"field": "ph", "type": "quantitative"}, "y": {"field": "n", "type": "quantitative"}, "color": {"field": "series", "type": "nominal"}}},
 {"data": {"values": [{}]}, "mark": {"type": "text", "align": "left", "baseline": "middle", "fontSize": 25, "font": "Liberation Serif", "color": "black"},
  "encoding": {"x": {"datum": 2.411}, "y": {"datum": 4.307}, "text": {"value": "Si"}}}
 ]},
{"width": 243, "height": 113,
 "layer": [
 {"data": {"name": "idx"}, "transform": [{"filter": "datum.mat == 'MeLPPP' && datum.series == 'slab'"}], "mark": {"type": "line", "strokeWidth": 1.2, "clip": true, "point": {"filled": true, "size": 10}},
  "encoding": {
   "x": {"field": "ph", "type": "quantitative", "scale": {"domain": [2.4, 2.6], "nice": false, "zero": false}, "axis": {"values": [2.4, 2.5, 2.6], "format": ".1f", "labelFont": "Liberation Serif", "title": "[eV]", "titleX": 142, "titleY": 47, "titleAlign": "center", "titleBaseline": "middle"}},
   "y": {"field": "n", "type": "quantitative", "scale": {"domain": [1.4655, 1.88], "nice": false, "zero": false}, "axis": {"values": [1.5, 1.75], "format": ".2f", "labelFont": "Liberation Serif", "title": "eff", "titleFontSize": 17, "titleX": -69, "titleY": -9, "titleAngle": -90, "titleAlign": "center", "titleBaseline": "middle"}},
   "color": {"field": "series", "type": "nominal", "scale": {"domain": ["slab", "fit", "calibrated"], "range": ["#1f77b4", "#ff7f0e", "#2ca02c"]}, "legend": null}}},
 {"data": {"name": "idx"}, "transform": [{"filter": "datum.mat == 'MeLPPP' && datum.series != 'slab'"}], "mark": {"type": "line", "strokeWidth": 1.2, "interpolate": "monotone", "clip": true},
  "encoding": {"x": {"field": "ph", "type": "quantitative"}, "y": {"field": "n", "type": "quantitative"}, "color": {"field": "series", "type": "nominal"}}},
 {"data": {"values": [{}]}, "mark": {"type": "text", "align": "left", "baseline": "middle", "fontSize": 25, "font": "Liberation Serif", "color": "black"},
  "encoding": {"x": {"datum": 2.411}, "y": {"datum": 1.806}, "text": {"value": "MeLPPP"}}}
 ]}
],
"spacing": 25, "bounds": "flush", "align": "each",
"resolve": {"scale": {"color": "independent", "shape": "independent", "size": "independent"}, "legend": {"color": "independent", "shape": "independent", "size": "independent"}}
}
],
"spacing": 100, "align": "each",
"resolve": {"scale": {"color": "independent", "shape": "independent", "size": "independent"}, "legend": {"color": "independent", "shape": "independent", "size": "independent"}},
"config": {
 "font": "Liberation Serif",
 "view": {"stroke": "black", "strokeWidth": 1},
 "axis": {"labelFont": "Liberation Serif", "labelFontSize": 20, "labelColor": "black", "titleFont": "Liberation Serif", "titleFontSize": 25, "titleFontWeight": "normal", "titleColor": "black", "tickColor": "black", "tickSize": 4, "tickWidth": 1, "domain": false, "grid": true, "gridColor": "#c8c8c8", "gridWidth": 0.8, "labelPadding": 4, "labelFlush": false, "labelOverlap": false},
 "axisX": {"labelFont": "Liberation Serif"},
 "axisY": {"labelFont": "Liberation Serif"},
 "legend": {"labelFont": "Liberation Serif", "labelFontSize": 20, "labelColor": "black"},
 "title": {"font": "Liberation Serif", "fontSize": 24, "fontWeight": "normal", "color": "black"}
}
}
